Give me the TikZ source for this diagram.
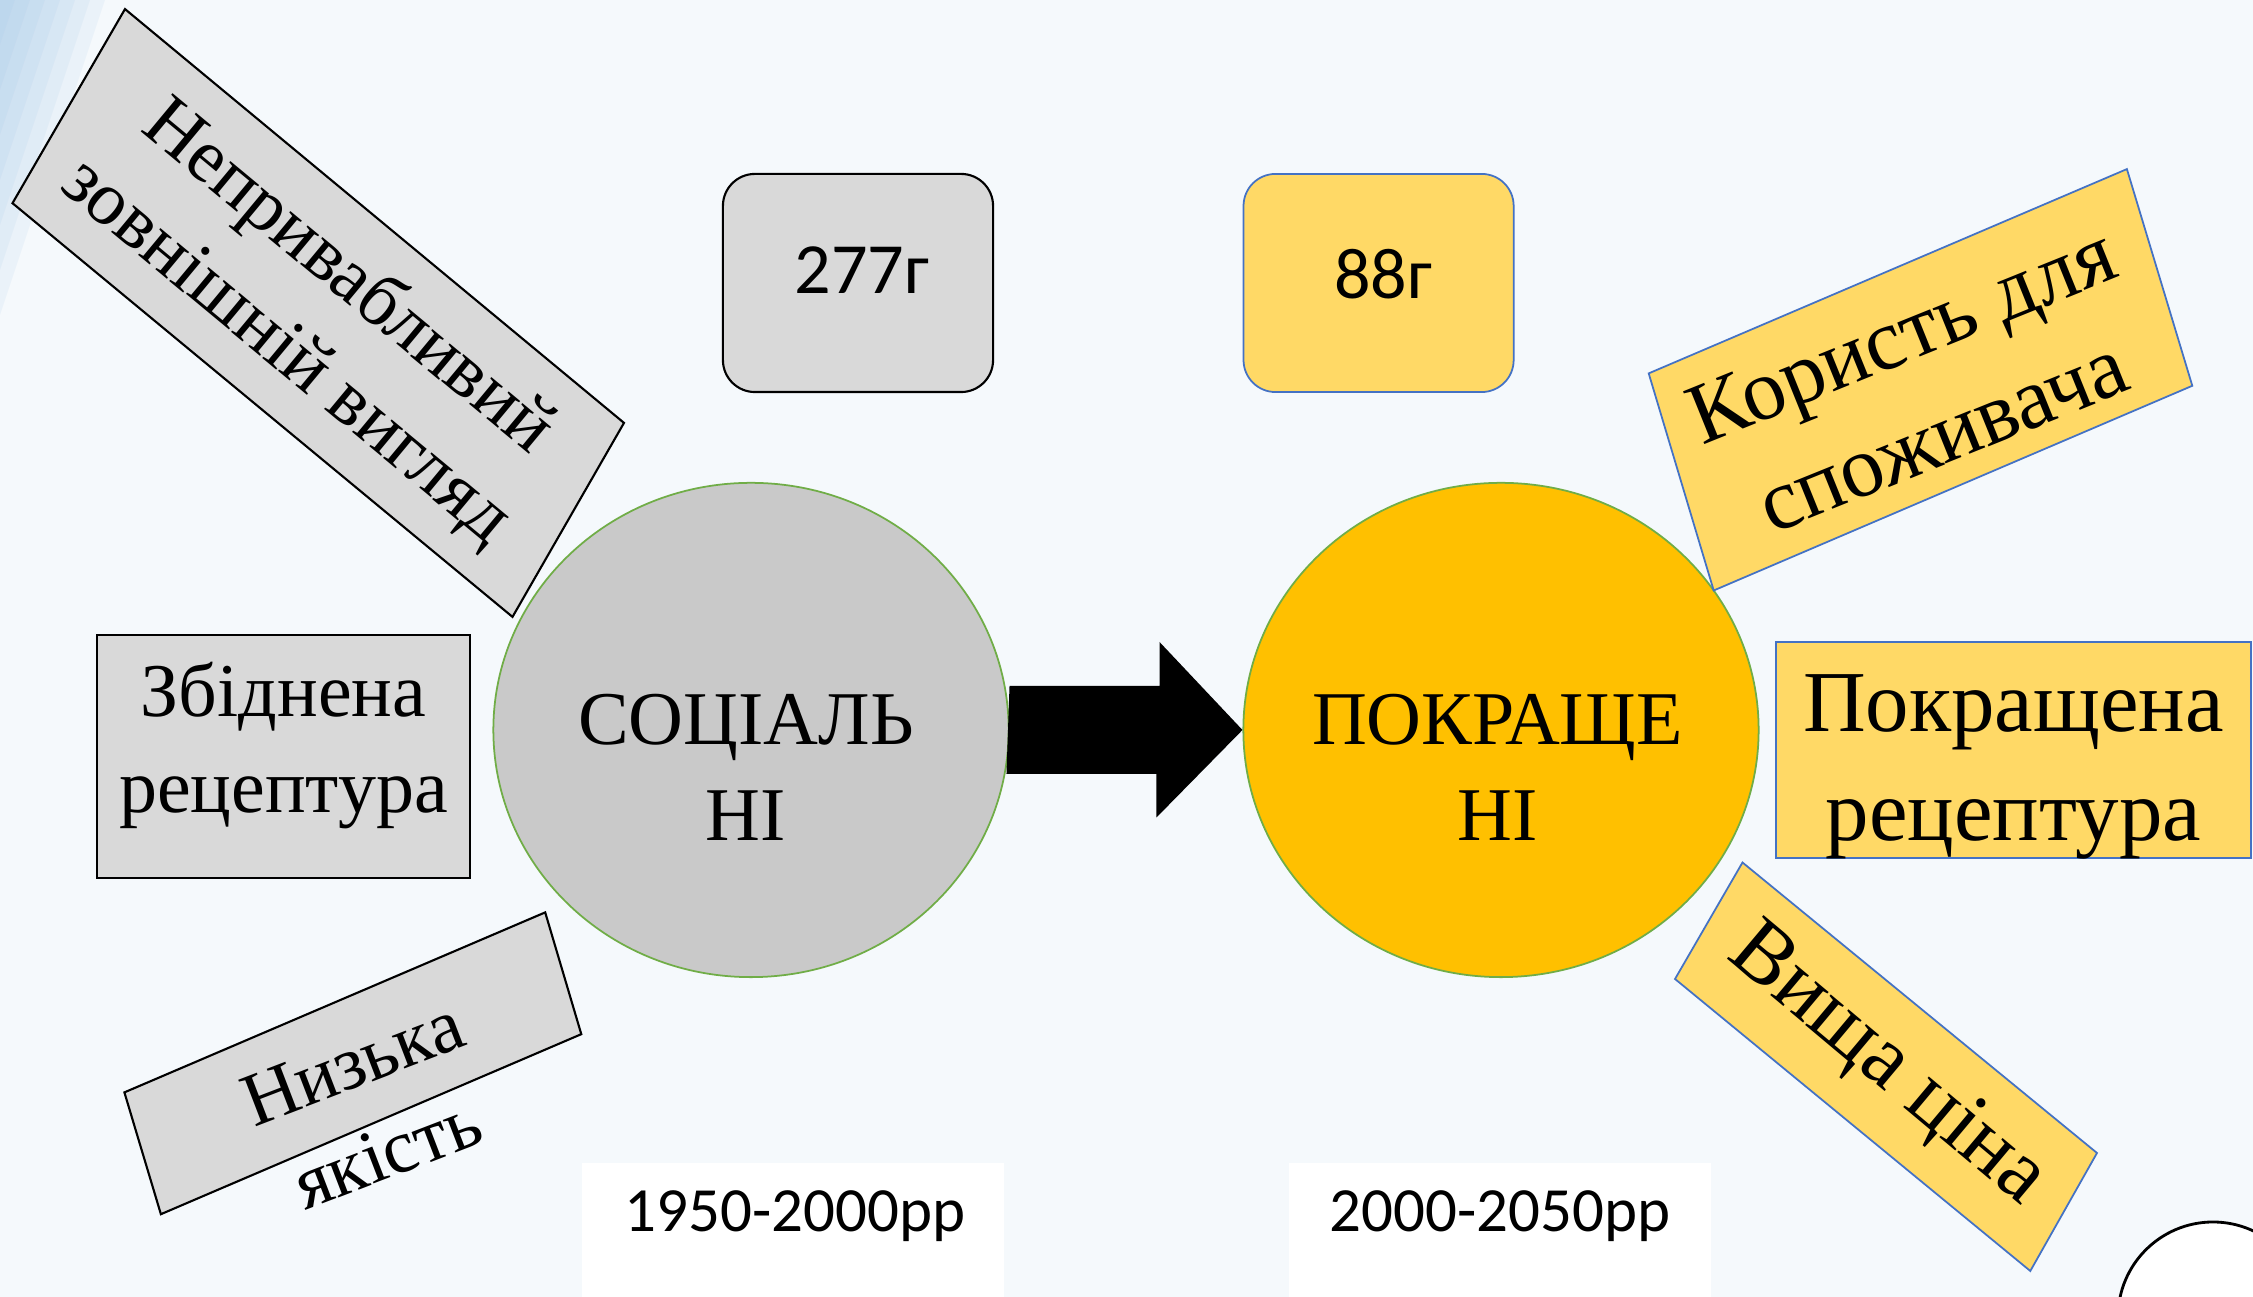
\documentclass[tikz,border=0pt]{standalone}
\usepackage{fontspec}
\setmainfont{Liberation Serif}
\newfontfamily\calibrifont{Carlito}
\usepackage{tikz}
\usetikzlibrary{positioning,shapes}
\usepackage{xcolor}
\definecolor{slidebg}{HTML}{F5F9FC}
\definecolor{cornerblue}{HTML}{9DC3E6}
\definecolor{circgray}{HTML}{C9C9C9}
\definecolor{boxgray}{HTML}{D9D9D9}
\definecolor{circgold}{HTML}{FFC000}
\definecolor{boxgold}{HTML}{FFD966}
\definecolor{edgeblue}{HTML}{4472C4}
\definecolor{edgegreen}{HTML}{70AD47}

\begin{document}
\begin{tikzpicture}[x=0.01cm,y=0.01cm,
    oldbox/.style={fill=boxgray,draw=black,line width=0.6pt},
    newbox/.style={fill=boxgold,draw=edgeblue,line width=0.5pt},
    oldtxt/.style={font=\fontsize{21.6}{27.3}\selectfont,align=center,inner sep=0pt},
    newtxt/.style={font=\fontsize{24.7}{30.9}\selectfont,align=center,inner sep=0pt},
    numtxt/.style={font=\calibrifont\fontsize{20.5}{24}\selectfont,inner sep=0pt},
    datetxt/.style={font=\calibrifont\fontsize{17.9}{21}\selectfont,inner sep=0pt,anchor=base},
    massbox/.style={rounded corners=0.32cm,minimum width=2.7cm,minimum height=2.18cm,inner sep=0pt},
    blob/.style={ellipse,draw=edgegreen,line width=0.5pt,minimum width=5.15cm,minimum height=4.94cm,inner sep=0pt}]
    \clip (0,0) rectangle (2253,1297);
    \fill[slidebg] (0,0) rectangle (2253,1297);
    % corner streaks
    \foreach \s in {1,...,7}
        \fill[cornerblue,opacity=0.12] (0,1297) -- (\s*15,1297) -- (0,1297-\s*45) -- cycle;

    % circles and arrow
    \node[blob,fill=circgray] (socl) at (751,567) {};
    \node[blob,fill=circgold] (impr) at (1501,567) {};
    \node[oldtxt] (socltxt) at (746,529.5) {СОЦІАЛЬ\\НІ};
    \node[oldtxt] (imprtxt) at (1497.5,529.5) {ПОКРАЩЕ\\НІ};
    \fill[black] (socl.east) ++(0,44) -- ++(150,0) -- ++(0,44) -- (impr.west)
        -- ++(-86,-87.5) -- ++(0,43.5) -- ++(-150,0) -- cycle;

    % mass boxes
    \node[massbox,fill=boxgray,draw=black,line width=0.6pt] (oldmass) at (858,1014) {};
    \node[massbox,fill=boxgold,draw=edgeblue,line width=0.5pt] (newmass) at (1378.6,1014) {};
    \node[numtxt] (oldg) at (862,1027) {277г};
    \node[numtxt] (newg) at (1383,1023) {88г};

    % date boxes
    \fill[white] (582,0) rectangle (1004,134);
    \fill[white] (1289,0) rectangle (1711,134);
    \node[datetxt] (olddate) at (795,65) {1950-2000рр};
    \node[datetxt] (newdate) at (1500,65) {2000-2050рр};

    % left side
    \draw[oldbox] (125,1287.9) -- (624,874.1) -- (512.5,680.1) -- (12.5,1093.8) -- cycle;
    \node[oldtxt,rotate=-39.7] (looks) at (317,982) {Непривабливий\\зовнішній вигляд};
    \draw[oldbox] (97,419) rectangle (470,662);
    \node[oldtxt] (oldrec) at (283.5,551) {Збіднена\\рецептура};
    \draw[oldbox] (124.4,204.6) -- (545.2,384.6) -- (581.3,262.8) -- (160.9,82.8) -- cycle;
    \node[oldtxt,rotate=21] (quality) at (370,189) {Низька\\якість};

    % right side
    \draw[newbox] (1648.7,923.6) -- (2126.9,1127.9) -- (2192.3,911.2) -- (1713.7,706.5) -- cycle;
    \node[newtxt,rotate=22] (benefit) at (1922,912) {Користь для\\споживача};
    \draw[newbox] (1776,439) rectangle (2251,655);
    \node[newtxt] (newrec) at (2013.5,530) {Покращена\\рецептура};
    \draw[newbox] (1742.5,434.5) -- (2097,144) -- (2030.3,26) -- (1675,318) -- cycle;
    \node[newtxt,rotate=-40] (price) at (1886,230) {Вища ціна};

    % page mark
    \draw[black,line width=0.8pt,fill=white] (2213,-20) circle (95);
\end{tikzpicture}
\end{document}
